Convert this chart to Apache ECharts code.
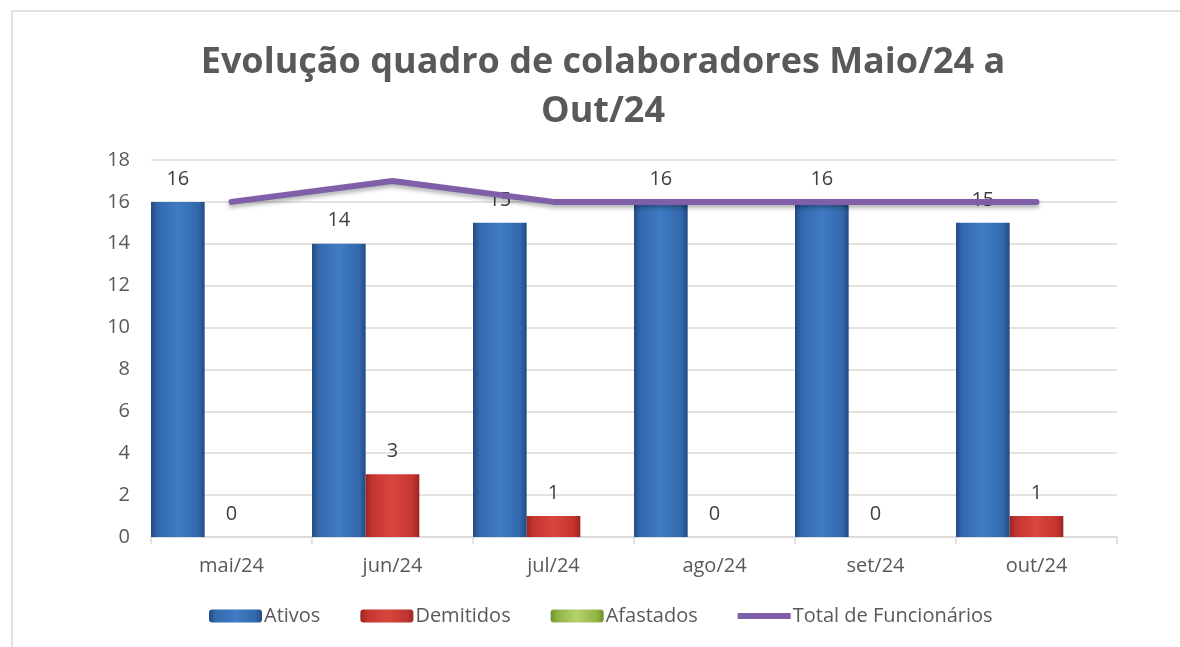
<!DOCTYPE html>
<html>
<head>
<meta charset="utf-8">
<script src="https://cdn.jsdelivr.net/npm/echarts@6/dist/echarts.min.js"></script>
<style>
  html, body { margin: 0; padding: 0; background: #fff; }
  #chart { width: 1180px; height: 647px; }
</style>
</head>
<body>
<div id="chart"></div>
<script>
const months = ['mai/24', 'jun/24', 'jul/24', 'ago/24', 'set/24', 'out/24']
const ativos = [16, 14, 15, 16, 16, 15]
const demitidos = [0, 3, 1, 0, 0, 1]
const afastados = [0, 0, 0, 0, 0, 0]
const totalFuncionarios = [16, 17, 16, 16, 16, 16]
const yTicks = [0, 2, 4, 6, 8, 10, 12, 14, 16, 18]

const font = '"Open Sans", sans-serif'

// gradiente horizontal para imitar o bisel do Excel
function bevel(dark, mid, light) {
  return new echarts.graphic.LinearGradient(0, 0, 1, 0, [
    { offset: 0, color: dark },
    { offset: 0.12, color: mid },
    { offset: 0.5, color: light },
    { offset: 0.88, color: mid },
    { offset: 1, color: dark }
  ])
}

const barLabel = {
  show: true,
  position: 'top',
  distance: 13,
  color: '#404040',
  fontSize: 20,
  fontFamily: font
}

const chart = echarts.init(document.getElementById('chart'))
chart.setOption({
  backgroundColor: '#fff',
  animation: false,
  graphic: [{
    type: 'rect',
    shape: { x: 12, y: 11, width: 1300, height: 800 },
    style: { fill: 'none', stroke: '#e3e0e0', lineWidth: 2 },
    silent: true
  }],
  title: {
    text: 'Evolução quadro de colaboradores Maio/24 a\nOut/24',
    left: 598,
    textAlign: 'center',
    top: 33,
    textStyle: {
      color: '#595959',
      fontSize: 36,
      fontWeight: 'bold',
      fontFamily: font,
      lineHeight: 49
    }
  },
  legend: {
    left: 204,
    top: 601,
    itemWidth: 53,
    itemHeight: 13,
    itemGap: 40,
    textStyle: { color: '#595959', fontSize: 20, fontFamily: font, padding: [0, 0, 0, -3] },
    data: [
      'Ativos',
      'Demitidos',
      'Afastados',
      { name: 'Total de Funcionários', icon: 'path://M0,0L100,0L100,11L0,11Z' }
    ]
  },
  grid: {
    left: 151,
    right: 63,
    top: 160,
    bottom: 110
  },
  xAxis: {
    type: 'category',
    data: months,
    axisLine: { lineStyle: { color: '#d9d9d9', width: 1.5 } },
    axisTick: { show: true, length: 7, lineStyle: { color: '#d9d9d9', width: 1.5 } },
    axisLabel: { color: '#595959', fontSize: 20, fontFamily: font, margin: 19 }
  },
  yAxis: {
    type: 'value',
    min: yTicks[0],
    max: yTicks[yTicks.length - 1],
    interval: 2,
    axisLine: { show: false },
    axisTick: { show: false },
    axisLabel: { color: '#595959', fontSize: 20, fontFamily: font, margin: 21 },
    splitLine: { lineStyle: { color: '#dcd8d8', width: 1.5 } }
  },
  series: [
    {
      name: 'Ativos',
      type: 'bar',
      data: ativos,
      barGap: 0,
      barCategoryGap: 0,
      itemStyle: { color: bevel('#234a82', '#3368ad', '#3f7cc4') },
      label: barLabel
    },
    {
      name: 'Demitidos',
      type: 'bar',
      data: demitidos,
      barGap: 0,
      barCategoryGap: 0,
      itemStyle: { color: bevel('#9a2521', '#c4342e', '#d9463f') },
      label: barLabel
    },
    {
      name: 'Afastados',
      type: 'bar',
      data: afastados,
      barGap: 0,
      barCategoryGap: 0,
      itemStyle: { color: bevel('#6f8f2e', '#8fb244', '#b5d36a') }
    },
    {
      name: 'Total de Funcionários',
      type: 'line',
      data: totalFuncionarios,
      symbol: 'none',
      z: 2,
      lineStyle: {
        color: '#7f5fa8',
        width: 6,
        cap: 'round',
        join: 'round',
        shadowColor: 'rgba(0,0,0,0.3)',
        shadowBlur: 4,
        shadowOffsetY: 3
      },
      itemStyle: { color: '#7f5fa8' }
    }
  ]
})
</script>
</body>
</html>
